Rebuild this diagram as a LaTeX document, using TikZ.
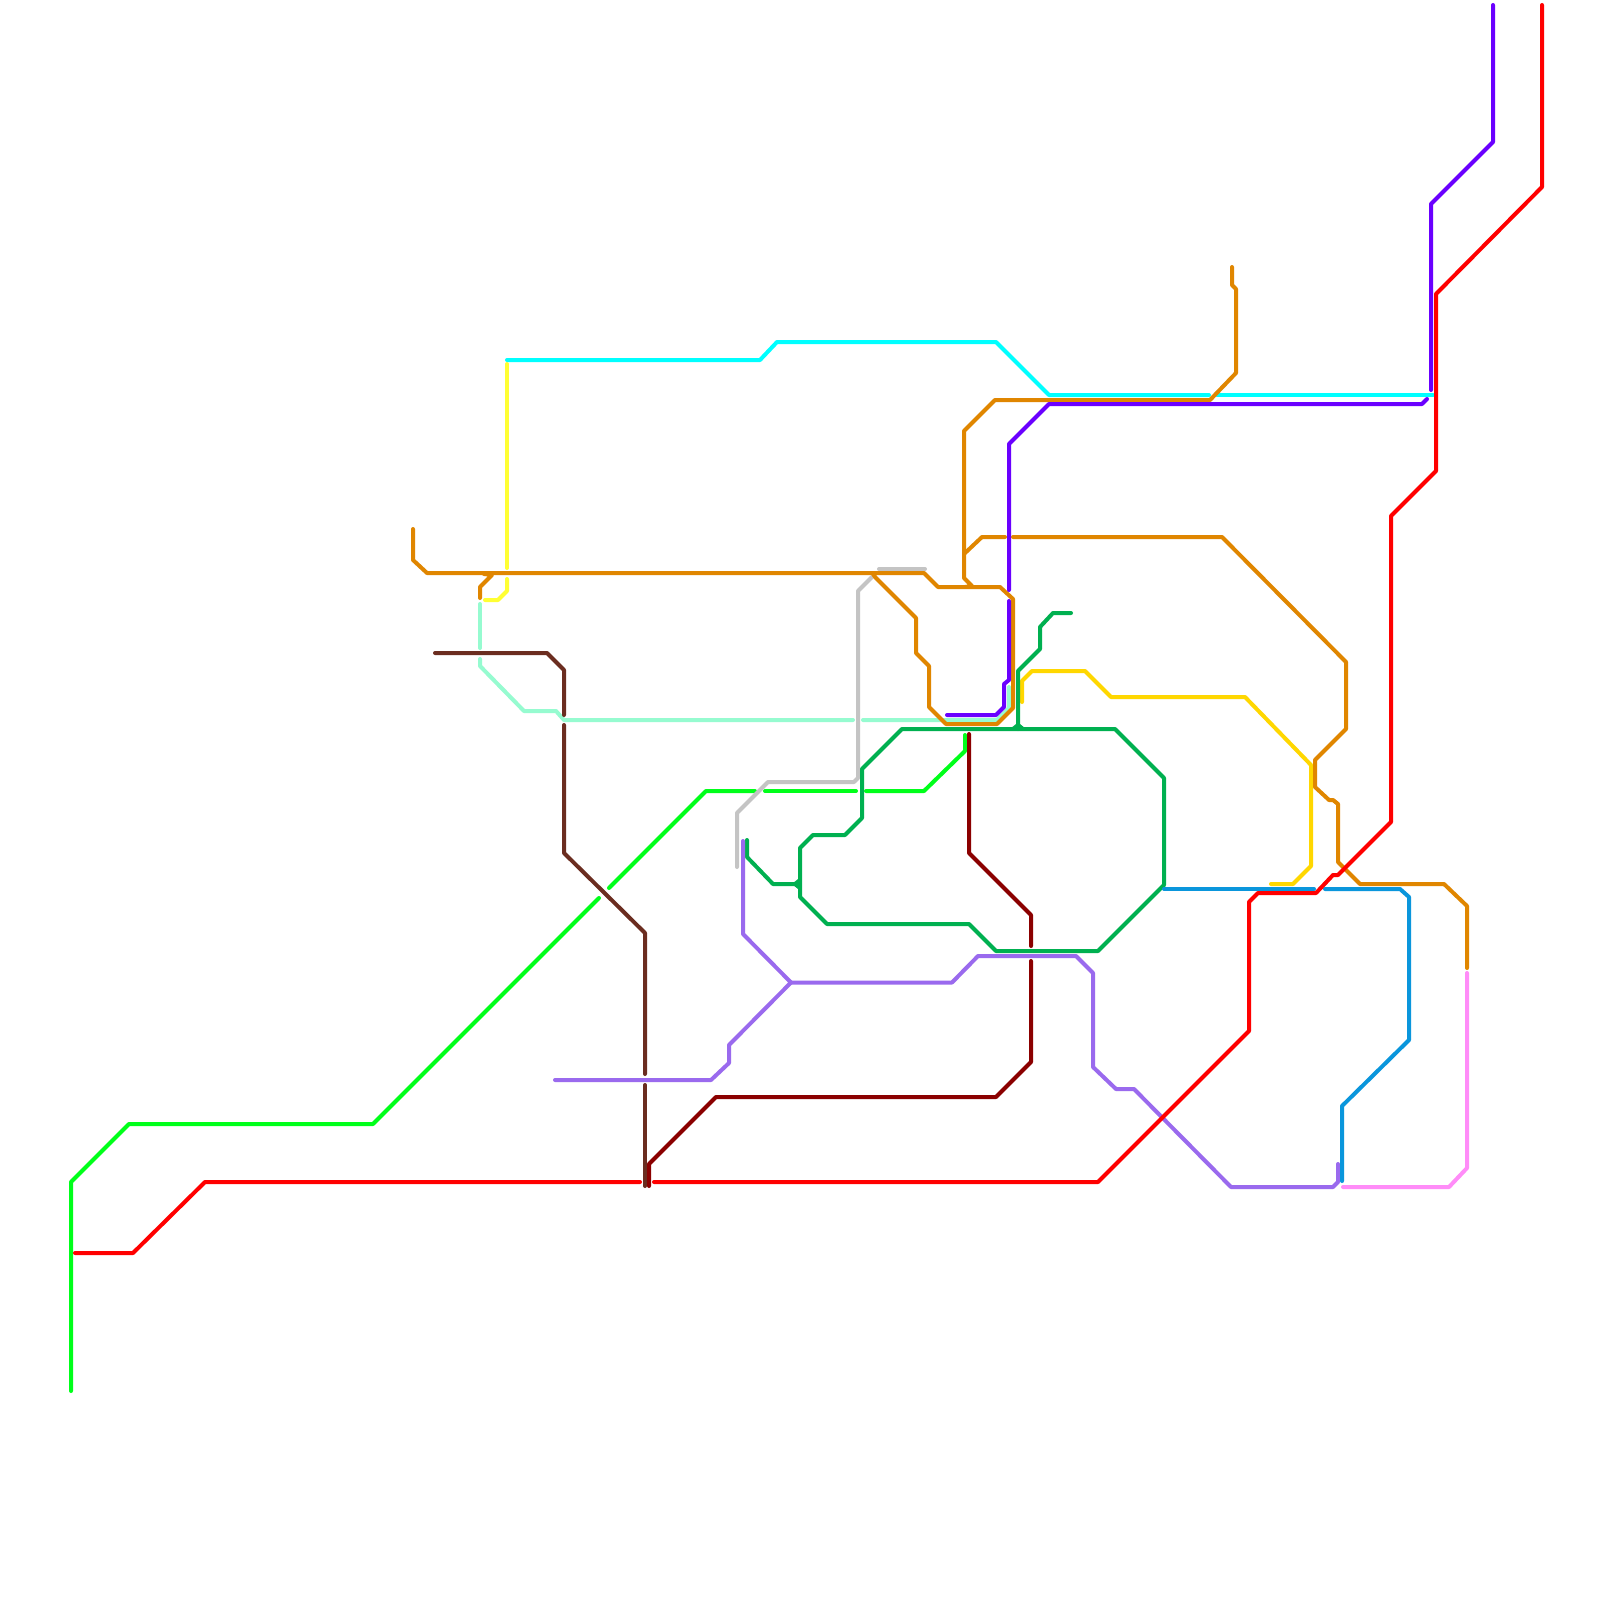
\documentclass[tikz,border=0pt]{standalone}
\definecolor{lnred}{HTML}{FF0000}
\definecolor{lncyan}{HTML}{00FFFF}
\definecolor{lnviolet}{HTML}{6A00FF}
\definecolor{lnlime}{HTML}{00FF1A}
\definecolor{lngreen}{HTML}{00B050}
\definecolor{lnorange}{HTML}{E08600}
\definecolor{lnbrown}{HTML}{6B2D20}
\definecolor{lnmaroon}{HTML}{8B0000}
\definecolor{lnlav}{HTML}{9A6AEE}
\definecolor{lnblue}{HTML}{0A96DC}
\definecolor{lnpink}{HTML}{FF8CF8}
\definecolor{lngold}{HTML}{FFD700}
\definecolor{lnyellow}{HTML}{FFFF33}
\definecolor{lnmint}{HTML}{96FBD0}
\definecolor{lngray}{HTML}{C4C4C4}
\tikzset{
  metro/.style={line width=2pt,line cap=round,line join=round},
  red line/.style={metro,draw=lnred},
  cyan line/.style={metro,draw=lncyan},
  violet line/.style={metro,draw=lnviolet},
  lime line/.style={metro,draw=lnlime},
  green line/.style={metro,draw=lngreen},
  orange line/.style={metro,draw=lnorange},
  brown line/.style={metro,draw=lnbrown},
  maroon line/.style={metro,draw=lnmaroon},
  lav line/.style={metro,draw=lnlav},
  blue line/.style={metro,draw=lnblue},
  pink line/.style={metro,draw=lnpink},
  gold line/.style={metro,draw=lngold},
  yellow line/.style={metro,draw=lnyellow},
  mint line/.style={metro,draw=lnmint},
  gray line/.style={metro,draw=lngray},
}
\begin{document}
\begin{tikzpicture}[x=0.5pt,y=-0.5pt]
\useasboundingbox (0,0) rectangle (1600,1600);
\fill[white] (0,0) rectangle (1600,1600);
% mint
\path[mint line] (480,604) -- (480,648);
\path[mint line] (480,659) -- (480,666) -- (524,711) -- (556,711) -- (564,720) -- (853,720);
\path[mint line] (863,720) -- (997,720) -- (1009,708) -- (1009,687);
% yellow
\path[yellow line] (507,364) -- (507,568);
\path[yellow line] (507,579) -- (507,591) -- (498,600) -- (485,600);
% cyan
\path[cyan line] (507,360) -- (760,360) -- (777,342) -- (996,342) -- (1049,395) -- (1209,395);
\path[cyan line] (1217,395) -- (1433,395);
% lime
\path[lime line] (71,1391) -- (71,1182) -- (129,1124) -- (373,1124) -- (599,898);
\path[lime line] (609,888) -- (706,791) -- (755,791);
\path[lime line] (765,791) -- (856,791);
\path[lime line] (866,791) -- (924,791) -- (965,751) -- (965,735);
% gray
\path[gray line] (879,569) -- (925,569);
\path[gray line] (872,577) -- (858,591) -- (858,778) -- (854,782) -- (768,782) -- (737,813) -- (737,867);
% gold
\path[gold line] (1022,702) -- (1022,681) -- (1032,671) -- (1085,671) -- (1111,697) -- (1245,697) -- (1311,765) -- (1311,866) -- (1293,884) -- (1271,884);
% orange
\path[orange line] (413,529) -- (413,560) -- (427,573) -- (924,573) -- (938,587) -- (1000,587) -- (1013,599) -- (1013,708) -- (997,724) -- (946,724) -- (941,719) -- (929,707) -- (929,666) -- (916,653) -- (916,618) -- (875,577) -- (873,574);
\path[orange line] (480,598) -- (480,587) -- (492,575) -- (484,574);
\path[orange line] (1232,267) -- (1232,285) -- (1236,289) -- (1236,373) -- (1210,400) -- (995,400) -- (964,431) -- (964,578) -- (972,586) -- (965,587);
\path[orange line] (964,554) -- (982,537) -- (1005,537);
\path[orange line] (1013,537) -- (1222,537) -- (1346,662) -- (1346,729) -- (1315,760) -- (1315,787) -- (1329,800) -- (1333,800) -- (1338,804) -- (1338,862) -- (1360,884) -- (1444,884) -- (1467,906) -- (1467,968);
% violet
\path[violet line] (1493,5) -- (1493,142) -- (1431,204) -- (1431,390);
\path[violet line] (1427,399) -- (1422,404) -- (1049,404) -- (1009,444) -- (1009,590);
\path[violet line] (1009,601) -- (1009,680) -- (1004,684) -- (1004,707) -- (996,715) -- (947,715);
% maroon
\path[maroon line] (649,1186) -- (649,1164) -- (716,1097) -- (996,1097) -- (1031,1062) -- (1031,961);
\path[maroon line] (1031,946) -- (1031,915) -- (969,853) -- (969,734);
% green
\path[green line] (800,848) -- (813,835) -- (845,835) -- (862,818) -- (862,769) -- (902,729) -- (1115,729) -- (1164,778) -- (1164,885) -- (1098,951) -- (996,951) -- (969,924) -- (827,924) -- (800,897) -- cycle;
\path[green line] (747,840) -- (747,857) -- (773,884) -- (795,884) -- (800,880);
\path[green line] (795,884) -- (800,888);
\path[green line] (1071,613) -- (1053,613) -- (1040,627) -- (1040,649) -- (1018,671) -- (1018,729);
\path[green line] (1013,729) -- (1018,725) -- (1023,729);
% lavender
\path[lav line] (555,1080) -- (711,1080) -- (729,1063) -- (729,1045) -- (791,982.5) -- (743,934) -- (743,841);
\path[lav line] (791,982.5) -- (952,982.5) -- (978,956) -- (1076,956) -- (1093,973) -- (1093,1067) -- (1116,1089) -- (1134,1089) -- (1231,1187) -- (1333,1187) -- (1338,1182) -- (1338,1164);
% brown
\path[brown line] (435,653) -- (547,653) -- (564,670) -- (564,715);
\path[brown line] (564,725) -- (564,853) -- (645,933) -- (645,1074);
\path[brown line] (645,1085) -- (645,1186);
% blue
\path[blue line] (1164,889) -- (1314,889);
\path[blue line] (1325,889) -- (1400,889) -- (1409,897) -- (1409,1040) -- (1342,1106) -- (1342,1181);
% pink
\path[pink line] (1343,1187) -- (1449,1187) -- (1467,1168) -- (1467,973);
% red
\path[red line] (75,1253) -- (133,1253) -- (205,1182) -- (640,1182);
\path[red line] (654,1182) -- (1098,1182) -- (1249,1031) -- (1249,902) -- (1258,893) -- (1316,893) -- (1333,875) -- (1338,875) -- (1391,822) -- (1391,516) -- (1436,471) -- (1436,294) -- (1542,187) -- (1542,5);
\end{tikzpicture}
\end{document}
